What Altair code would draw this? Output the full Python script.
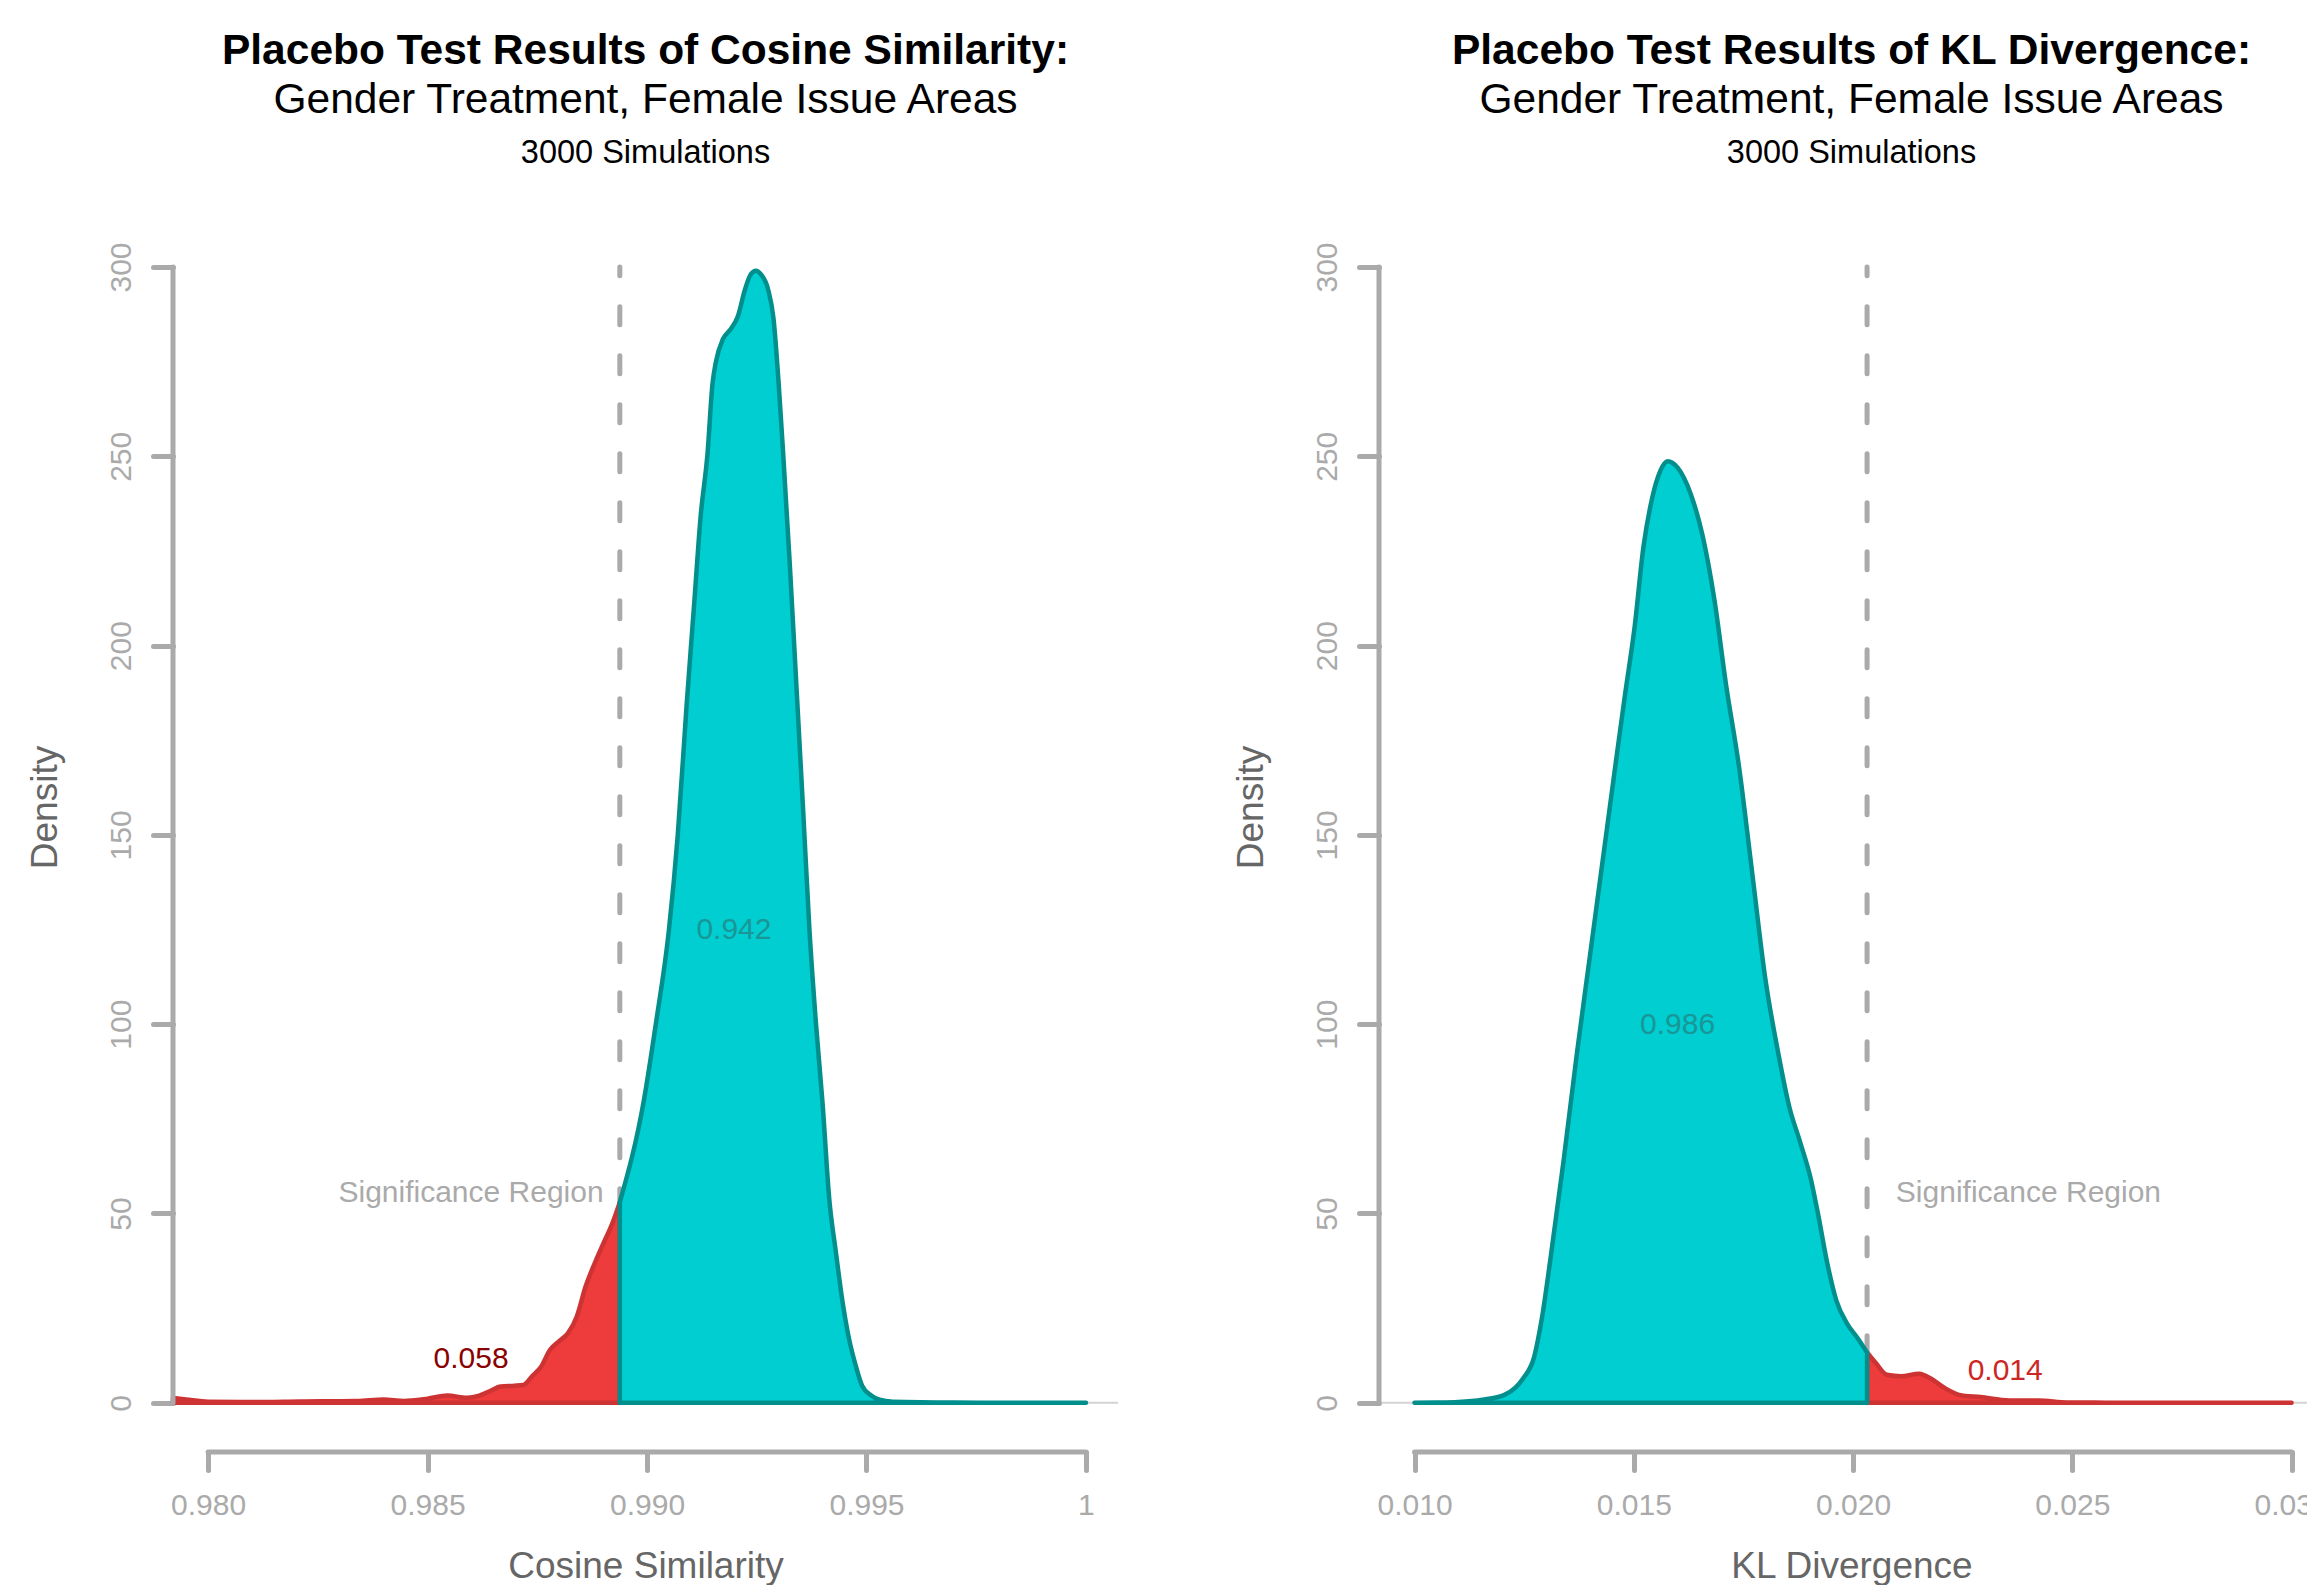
import altair as alt
import pandas as pd

FONT = "Liberation Sans"
GREY = "#AAAAAA"

# ---- data ----
cos_x = [0.9792, 0.9795, 0.9800, 0.9810, 0.9821, 0.9834, 0.9840, 0.98446, 0.9850, 0.98545,
         0.9859, 0.98616, 0.98637, 0.98667, 0.98698, 0.98718, 0.98738, 0.98759, 0.98779, 0.98799,
         0.9882, 0.9884, 0.9886, 0.98881, 0.98901, 0.98921, 0.98938, 0.98993, 0.9902, 0.9905,
         0.9907, 0.9909, 0.99108, 0.99122, 0.99138, 0.99149, 0.99157, 0.99173, 0.9919, 0.99207,
         0.99223, 0.99236, 0.99248, 0.9926, 0.99276, 0.99288, 0.993, 0.9931, 0.99325, 0.9934,
         0.99355, 0.9937, 0.99385, 0.994, 0.99415, 0.9943, 0.99445, 0.9946, 0.99476, 0.9949,
         0.9951, 0.9953, 0.9956, 0.997, 0.998, 0.999, 1.0]
cos_y = [1.3, 0.9, 0.3, 0.2, 0.35, 0.5, 0.9, 0.5, 1.1, 1.9,
         1.3, 1.8, 2.8, 4.3, 4.5, 4.7, 7.0, 9.6, 14.0, 16.2,
         18.4, 22.8, 30.7, 36.9, 42.2, 47.4, 53.0, 80.0, 100.0, 125.0,
         150.0, 184.0, 212.0, 234.0, 251.0, 269.0, 275.0, 281.0, 283.5, 287.0,
         294.0, 298.0, 299.0, 298.0, 294.0, 286.5, 269.0, 251.0, 222.0, 190.0,
         158.0, 125.0, 100.0, 79.0, 54.0, 40.0, 27.0, 17.0, 9.6, 4.5,
         2.0, 0.8, 0.3, 0.05, 0.02, 0.01, 0.0]
cos_cut = [0.98938]

kl_x = [0.0100, 0.0105, 0.0110, 0.01155, 0.01205, 0.0123, 0.01248, 0.01273, 0.0129, 0.0131,
        0.0134, 0.0137, 0.0140, 0.0143, 0.0146, 0.0148, 0.01502, 0.01522, 0.01542, 0.0156,
        0.01577, 0.0160, 0.0163, 0.01657, 0.01684, 0.0171, 0.0174, 0.0177, 0.0180, 0.0183,
        0.01855, 0.01879, 0.01904, 0.0192, 0.01941, 0.01962, 0.01986, 0.02011, 0.02032, 0.02052,
        0.02077, 0.0211, 0.02151, 0.02176, 0.02209, 0.02242, 0.02291, 0.02357, 0.02422, 0.02488,
        0.0255, 0.026, 0.027, 0.028, 0.029, 0.030]
kl_y = [0.0, 0.05, 0.2, 0.8, 2.1, 4.0, 6.5, 12.2, 22.0, 38.0,
        64.0, 92.0, 118.0, 144.0, 170.0, 187.0, 205.0, 226.0, 239.0, 246.0,
        248.7, 247.0, 240.0, 229.0, 212.0, 190.0, 168.0, 140.0, 112.0, 92.0,
        78.0, 69.0, 59.0, 50.0, 37.0, 27.0, 21.0, 17.0, 13.3, 10.5,
        7.4, 7.0, 7.7, 6.5, 3.9, 2.1, 1.5, 0.6, 0.6, 0.1,
        0.05, 0.02, 0.01, 0.0, 0.0, 0.0]
kl_cut = [0.02032]

cos_ticks = [0.980, 0.985, 0.990, 0.995, 1.0]
kl_ticks = [0.010, 0.015, 0.020, 0.025, 0.030]
y_ticks = [0, 50, 100, 150, 200, 250, 300]

cos_labels = ["0.942", "0.058", "Significance Region"]
cos_label_x = [0.99198, 0.98599, 0.98599]
cos_label_y = [125.0, 11.6, 55.5]
cos_label_col = ["#1A9696", "#8B0000", GREY]

kl_labels = ["0.986", "0.014", "Significance Region"]
kl_label_x = [0.01600, 0.02347, 0.02400]
kl_label_y = [99.8, 8.5, 55.5]
kl_label_col = ["#1A9696", "#CD2626", GREY]

W = 945
H = 1185


def panel(xs, ys, cut, tail, xdomain, ticks, label_expr, xtitle, t1, t2, t3,
          lab, lab_x, lab_y, lab_col):
    df = pd.DataFrame({"x": xs, "y": ys})
    if tail == "left":
        red = df[df.x <= cut[0]]
        teal = df[df.x >= cut[0]]
    else:
        teal = df[df.x <= cut[0]]
        red = df[df.x >= cut[0]]

    xscale = alt.Scale(domain=xdomain, nice=False, zero=False)
    yscale = alt.Scale(domain=[-13, 300], nice=False, zero=False)

    xaxis = alt.Axis(values=ticks, domain=False, grid=False, tickColor=GREY, tickWidth=5,
                     tickSize=18, tickCap="round", labelFont=FONT, labelFontSize=30,
                     labelColor=GREY, labelPadding=20, labelFlush=False, labelOverlap=False,
                     labelExpr=label_expr, title=xtitle, titleFont=FONT, titleFontSize=37,
                     titleFontWeight="normal", titleColor="#666666", titleY=125.5,
                     titleBaseline="alphabetic")
    yaxis = alt.Axis(values=y_ticks, domain=False, grid=False, tickColor=GREY, tickWidth=5,
                     tickSize=20, tickCap="round", labelFont=FONT, labelFontSize=30,
                     labelColor=GREY, labelAngle=270, labelAlign="center",
                     labelBaseline="alphabetic", labelPadding=23, labelFlush=False,
                     labelOverlap=False, title="Density", titleFont=FONT, titleFontSize=37,
                     titleFontWeight="normal", titleColor="#666666", titleX=-116.5, titleY=540,
                     titleAngle=270, titleAlign="center", titleBaseline="alphabetic")

    def X(f):
        return alt.X(f, scale=xscale, axis=xaxis)

    def Y(f):
        return alt.Y(f, scale=yscale, axis=yaxis)

    base_df = pd.DataFrame({"z": [0], "top": [300]})

    hline = alt.Chart(base_df).mark_rule(color="#D3D3D3", strokeWidth=2).encode(
        x=alt.value(0), x2=alt.value(W), y=Y("z:Q"))

    dash = alt.Chart(pd.DataFrame({"c": cut, "z": [0], "top": [300]})).mark_rule(
        color=GREY, strokeWidth=5, strokeDash=[18, 31], strokeCap="round").encode(
        x=X("c:Q"), y=Y("z:Q"), y2="top:Q")

    red_area = alt.Chart(red).mark_area(
        interpolate="monotone", fill="#EE3B3B", stroke="#CD3333", strokeWidth=4.5,
        strokeJoin="round").encode(x=X("x:Q"), y=Y("y:Q"))

    teal_area = alt.Chart(teal).mark_area(
        interpolate="monotone", fill="#00CED1", stroke="#008F8C", strokeWidth=4.5,
        strokeJoin="round").encode(x=X("x:Q"), y=Y("y:Q"))

    yline = alt.Chart(base_df).mark_rule(color=GREY, strokeWidth=5, strokeCap="round").encode(
        x=alt.value(0), y=Y("z:Q"), y2="top:Q")

    xline = alt.Chart(pd.DataFrame({"a": [ticks[0]], "b": [ticks[-1]]})).mark_rule(
        color=GREY, strokeWidth=5, strokeCap="round").encode(
        x=X("a:Q"), x2="b:Q", y=alt.value(H))

    ann = pd.DataFrame({"x": lab_x, "y": lab_y, "t": lab, "c": lab_col})
    texts = alt.Chart(ann).mark_text(font=FONT, fontSize=30, baseline="middle").encode(
        x=X("x:Q"), y=Y("y:Q"), text="t:N", color=alt.Color("c:N", scale=None))

    sub3 = alt.Chart(pd.DataFrame({"t": [t3]})).mark_text(
        font=FONT, fontSize=32.5, color="black", baseline="middle").encode(
        x=alt.value(W / 2), y=alt.value(-114), text="t:N")

    return alt.layer(hline, dash, red_area, teal_area, yline, xline, texts, sub3).properties(
        width=W, height=H,
        title=alt.TitleParams(text=t1, subtitle=t2, font=FONT, fontSize=42.5, fontWeight="bold",
                              color="black", subtitleFont=FONT, subtitleFontSize=42.5,
                              subtitleFontWeight="normal", subtitleColor="black",
                              anchor="middle", frame="group", offset=15.5, subtitlePadding=6.2))


left = panel(cos_x, cos_y, cos_cut, "left", [0.9792, 1.00073], cos_ticks,
             "datum.value == 1 ? '1' : format(datum.value, '.3f')", "Cosine Similarity",
             "Placebo Test Results of Cosine Similarity:", "Gender Treatment, Female Issue Areas",
             "3000 Simulations", cos_labels, cos_label_x, cos_label_y, cos_label_col)

right = panel(kl_x, kl_y, kl_cut, "right", [0.00919, 0.03074], kl_ticks,
              "format(datum.value, '.3f')", "KL Divergence",
              "Placebo Test Results of KL Divergence:", "Gender Treatment, Female Issue Areas",
              "3000 Simulations", kl_labels, kl_label_x, kl_label_y, kl_label_col)

chart = alt.hconcat(left, right, spacing=261, bounds="flush").properties(
    padding={"left": 18, "top": 22, "right": -23, "bottom": 0},
    background="white").configure_view(stroke=None)

chart.save("out.html", embed_options={"renderer": "svg", "actions": False})
